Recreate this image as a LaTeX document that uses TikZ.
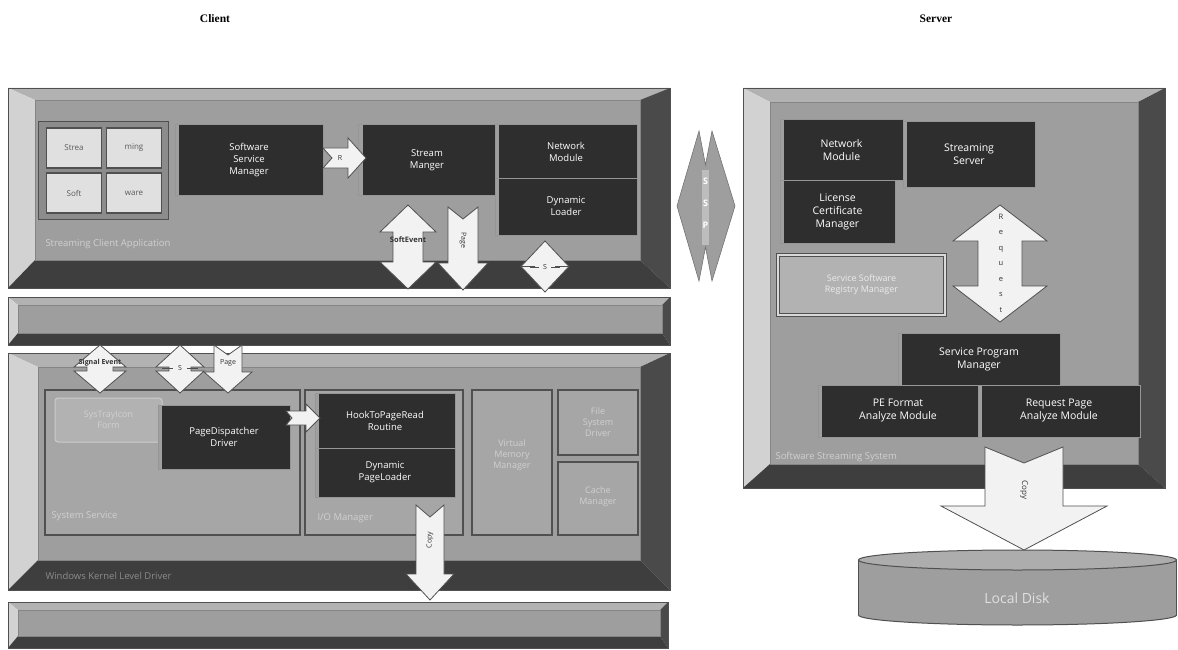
\documentclass[tikz,border=0pt]{standalone}
\usepackage{fontspec}
\setmainfont{Liberation Serif}
\newfontfamily\uifont{Open Sans}

\definecolor{faceg}{HTML}{9E9E9E}
\definecolor{bevL}{HTML}{D2D2D2}
\definecolor{bevT}{HTML}{B2B2B2}
\definecolor{bevR}{HTML}{4A4A4A}
\definecolor{bevB}{HTML}{3E3E3E}
\definecolor{darkfill}{HTML}{2E2E2E}
\definecolor{subface}{HTML}{A6A6A6}
\definecolor{faint}{HTML}{D0D0D0}
\definecolor{arrowfill}{HTML}{F2F2F2}
\definecolor{edge}{HTML}{505050}

% beveled panel: x1 y1 x2 y2, bevel widths left top right bottom
\newcommand\bevelpanel[8]{%
  \fill[bevT] (#1,#2) -- (#3,#2) -- (#3-#7,#2+#6) -- (#1+#5,#2+#6) -- cycle;
  \fill[bevL] (#1,#2) -- (#1+#5,#2+#6) -- (#1+#5,#4-#8) -- (#1,#4) -- cycle;
  \fill[bevR] (#3,#2) -- (#3,#4) -- (#3-#7,#4-#8) -- (#3-#7,#2+#6) -- cycle;
  \fill[bevB] (#1,#4) -- (#1+#5,#4-#8) -- (#3-#7,#4-#8) -- (#3,#4) -- cycle;
  \fill[faceg] (#1+#5,#2+#6) rectangle (#3-#7,#4-#8);
  \draw[edge,line width=0.8] (#1,#2) rectangle (#3,#4);
  \draw[edge!70,line width=0.6] (#1+#5,#2+#6) rectangle (#3-#7,#4-#8);
}
% vertical double arrow: cx y1 y2 shaft-half head-half head-length
\newcommand\vdbl[6]{%
  \filldraw[blockarrow] (#1,#2) -- (#1+#5,#2+#6) -- (#1+#4,#2+#6) -- (#1+#4,#3-#6)
    -- (#1+#5,#3-#6) -- (#1,#3) -- (#1-#5,#3-#6) -- (#1-#4,#3-#6)
    -- (#1-#4,#2+#6) -- (#1-#5,#2+#6) -- cycle;
}
% downward notched arrow: cx ytop ytip shaft-half head-half head-length notch
\newcommand\vdown[7]{%
  \filldraw[blockarrow] (#1-#4,#2) -- (#1,#2+#7) -- (#1+#4,#2) -- (#1+#4,#3-#6)
    -- (#1+#5,#3-#6) -- (#1,#3) -- (#1-#5,#3-#6) -- (#1-#4,#3-#6) -- cycle;
}
% rightward notched arrow: xtail xtip cy shaft-half head-half head-length notch
\newcommand\hright[7]{%
  \filldraw[blockarrow] (#1,#3-#4) -- (#2-#6,#3-#4) -- (#2-#6,#3-#5) -- (#2,#3)
    -- (#2-#6,#3+#5) -- (#2-#6,#3+#4) -- (#1,#3+#4) -- (#1+#7,#3) -- cycle;
}

\begin{document}
\begin{tikzpicture}[x=1pt,y=-1pt,
  darkbox/.style={fill=darkfill,draw=edge!60,line width=1,text=white,align=center,
    font=\uifont\fontsize{9.5}{12}\selectfont,inner sep=1pt,
    path picture={\fill[gray!75] (path picture bounding box.north west)
      rectangle ([xshift=4pt]path picture bounding box.south west);}},
  srvbox/.style={darkbox,font=\uifont\fontsize{10.5}{13}\selectfont},
  tile/.style={fill=black!12,draw=edge,line width=1.4,text=black!65,
    font=\uifont\fontsize{8}{9}\selectfont,minimum width=55,minimum height=40},
  subpanel/.style={fill=subface,draw=edge,line width=1.4},
  paletext/.style={text=faint,font=\uifont\fontsize{9}{11}\selectfont,align=center},
  faintlabel/.style={text=faint,font=\uifont\fontsize{9.5}{11}\selectfont,anchor=west},
  blockarrow/.style={fill=arrowfill,draw=edge,line width=0.8},
  arrowtext/.style={text=black!80,font=\uifont\fontsize{7}{8}\selectfont,inner sep=0pt},
  title/.style={font=\bfseries\fontsize{11.5}{13}\selectfont}]
\useasboundingbox (0,0) rectangle (1178,650);

% headings
\node[title] (client) at (215,19) {Client};
\node[title] (server) at (936,19) {Server};

% ---------- client: application layer ----------
\bevelpanel{8}{88}{670}{288}{27}{12}{30}{28}
\filldraw[fill=black!45,draw=edge,line width=1] (38,122) rectangle (168,219);
\node[tile] (t1) at (74,148) {Strea};
\node[tile] (t2) at (134,148) {ming};
\node[tile] (t3) at (74,193) {Soft};
\node[tile] (t4) at (134,193) {ware};
\node[darkbox,minimum width=148,minimum height=70] (ssm) at (249,160) {Software\\Service\\Manager};
\node[darkbox,minimum width=137,minimum height=70] (strm) at (427,160) {Stream\\Manger};
\node[darkbox,minimum width=142,minimum height=53] (netc) at (566,151.5) {Network\\Module};
\node[darkbox,minimum width=142,minimum height=57] (dynl) at (566,206.5) {Dynamic\\Loader};
\node[faintlabel] (applbl) at (42,244) {Streaming Client Application};

\hright{323}{366}{158}{10}{20}{18}{9}
\node[arrowtext] (rlbl) at (340,158) {R};
\vdbl{408}{205}{289}{15}{28}{27}
\node[arrowtext,font=\uifont\bfseries\fontsize{7.5}{8}\selectfont] (selbl) at (408,240) {SoftEvent};
\vdown{463}{207}{290}{15}{25}{27}{12}
\node[arrowtext,rotate=-90] (pglbl) at (463,240) {Page};
\vdbl{545}{241}{292}{10}{24}{25.5}
\draw[edge,line width=0.6] (530,267) -- (539,267) (551,267) -- (560,267);
\node[arrowtext] (s1lbl) at (545,267) {S};

% ---------- client: middle bar ----------
\bevelpanel{8}{297}{670}{345}{10}{8}{8}{12}

% ---------- client: kernel layer ----------
\bevelpanel{8}{353}{670}{590}{30}{14}{30}{30}
\filldraw[subpanel] (45,390) rectangle (300,535);
\filldraw[subpanel] (305,390) rectangle (463,535);
\filldraw[subpanel] (472,390) rectangle (552,535);
\filldraw[subpanel] (558,390) rectangle (638,455);
\filldraw[subpanel] (558,462) rectangle (638,535);
\node[fill=black!30,draw=black!20,line width=1,rounded corners=3,minimum width=107,
  minimum height=44,paletext] (tray) at (108.5,420) {SysTrayIcon\\Form};
\node[darkbox,minimum width=132,minimum height=64] (pdd) at (224,437) {PageDispatcher\\Driver};
\node[darkbox,minimum width=140,minimum height=55] (hook) at (385,420.5) {HookToPageRead\\Routine};
\node[darkbox,minimum width=140,minimum height=49] (dpl) at (385,472.5) {Dynamic\\PageLoader};
\node[paletext] (vmm) at (512,455) {Virtual\\Memory\\Manager};
\node[paletext] (fsd) at (598,422) {File\\System\\Driver};
\node[paletext] (cache) at (598,497) {Cache\\Manager};
\node[faintlabel] (syslbl) at (48,516) {System Service};
\node[faintlabel] (iolbl) at (314,518) {I/O Manager};
\node[faintlabel,text=black!45] (krnlbl) at (42,576) {Windows Kernel Level Driver};

\hright{286}{320}{418}{7}{14}{14}{6}
\vdbl{100}{345}{393}{13}{26}{22}
\node[arrowtext,font=\uifont\bfseries\fontsize{7}{8}\selectfont] (sglbl) at (100,363) {Signal Event};
\vdbl{180}{345}{393}{11}{24}{22}
\draw[edge,line width=0.6] (162,368) -- (173,368) (187,368) -- (198,368);
\node[arrowtext] (s2lbl) at (180,368) {S};
\vdown{228}{345}{393}{14}{24}{21}{10}
\node[arrowtext] (pg2lbl) at (228,363) {Page};
\vdown{430}{505}{600}{14}{24}{26}{12}
\node[arrowtext,rotate=90] (cp1lbl) at (430,540) {Copy};

% ---------- client: bottom bar ----------
\bevelpanel{8}{602}{668}{648}{10}{8}{8}{12}

% ---------- link between client and server ----------
\filldraw[fill=black!38,draw=black!55,line width=0.6]
  (699,131) -- (705.5,165) -- (712,131) -- (735,206) -- (712,281)
  -- (705.5,247) -- (699,281) -- (677,206) -- cycle;
\fill[black!26] (702,170) rectangle (709,245);
\node[text=white,font=\uifont\bfseries\fontsize{9}{10}\selectfont,align=center,
  inner sep=0pt] (ssp) at (705.5,203) {S\\[12pt]S\\[12pt]P};

% ---------- server ----------
\bevelpanel{743}{88}{1165}{488}{27}{14}{27}{24}
\node[srvbox,minimum width=123,minimum height=60] (snet) at (841.5,150) {Network\\Module};
\node[srvbox,minimum width=132,minimum height=65] (sstr) at (969,154.5) {Streaming\\Server};
\node[srvbox,minimum width=115,minimum height=63] (lic) at (837.5,211.5) {License\\Certificate\\Manager};
\node[fill=black!30,draw=edge,line width=1.6,double=black!15,double distance=1.2,
  minimum width=167,minimum height=60,paletext,text=black!8] (reg) at (861.5,285) {Service Software\\Registry Manager};
\node[srvbox,minimum width=162,minimum height=52] (spm) at (979,359) {Service Program\\Manager};
\node[srvbox,minimum width=160,minimum height=52] (pefm) at (898,411) {PE Format\\Analyze Module};
\node[srvbox,minimum width=162,minimum height=52] (rpam) at (1059,411) {Request Page\\Analyze Module};
\node[faintlabel] (srvlbl) at (772,457) {Software Streaming System};

\vdbl{1000}{205}{322}{22}{47}{36}
\node[arrowtext,align=center,font=\uifont\fontsize{7.5}{15.5}\selectfont] (reqlbl) at (1001,263)
  {R\\e\\q\\u\\e\\s\\t};

% ---------- local disk ----------
\filldraw[fill=faceg,draw=edge,line width=1] (1017.5,615) ellipse [x radius=159,y radius=10];
\fill[faceg] (858.5,560) rectangle (1176.5,615);
\draw[edge,line width=1] (858.5,560) -- (858.5,615) (1176.5,560) -- (1176.5,615);
\filldraw[fill=black!32,draw=edge,line width=1] (1017.5,560) ellipse [x radius=159,y radius=10];
\node[text=black!12,font=\uifont\fontsize{14}{16}\selectfont] (disk) at (1017,598) {Local Disk};

\vdown{1024}{447}{550}{39}{83}{44}{16}
\node[arrowtext,rotate=-90,font=\uifont\fontsize{8}{9}\selectfont] (cp2lbl) at (1024,490) {Copy};
\end{tikzpicture}
\end{document}
